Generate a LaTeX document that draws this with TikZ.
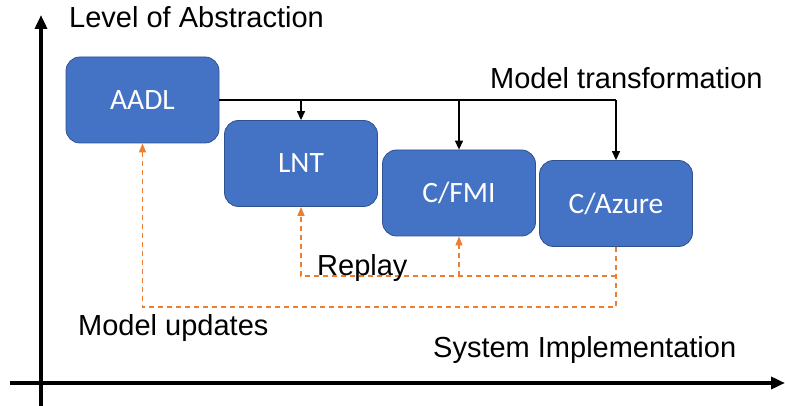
\documentclass[tikz,border=0pt]{standalone}
\usepackage{fontspec}
\setmainfont{Liberation Sans}
\newfontfamily\boxfont{Carlito}
\usetikzlibrary{arrows.meta}
\definecolor{boxblue}{HTML}{4472C4}
\definecolor{boxedge}{HTML}{2F528F}
\definecolor{updorange}{HTML}{ED7D31}
\begin{document}
\begin{tikzpicture}[x=1pt,y=-1pt,
  blockbox/.style={draw=boxedge, line width=0.8pt, fill=boxblue, rounded corners=14pt,
    minimum width=153pt, minimum height=86pt, text=white, font=\boxfont\fontsize{29.5}{33}\selectfont},
  lbl/.style={anchor=base west, inner sep=0pt, font=\fontsize{29}{33}\selectfont},
  axis/.style={line width=3.5pt, -{Triangle[length=14pt,width=12pt]}},
  trans/.style={line width=1.3pt, -{Triangle[length=9pt,width=8pt]}},
  upd/.style={updorange, line width=1.5pt, dash pattern=on 5pt off 4pt, -{Triangle[length=9pt,width=7pt]}}]
\useasboundingbox (0,0) rectangle (785,406);
% axes
\coordinate (vb) at (41,406);
\coordinate (vt) at (41,15);
\coordinate (hl) at (10,383);
\coordinate (hr) at (785,383);
\draw[axis] (vb) -- (vt);
\draw[axis] (hl) -- (hr);
% boxes
\node[blockbox] (aadl) at (142.5,100) {AADL};
\node[blockbox] (lnt) at (301,163.5) {LNT};
\node[blockbox] (fmi) at (459,193) {C/FMI};
\node[blockbox] (azure) at (616,203.5) {C/Azure};
% transformation
\draw[line width=1.3pt] (aadl.east) -- (azure.north |- aadl.east);
\draw[trans] (lnt.north |- aadl.east) -- (lnt.north);
\draw[trans] (fmi.north |- aadl.east) -- (fmi.north);
\draw[trans] (azure.north |- aadl.east) -- (azure.north);
% updates
\coordinate (mu) at (144,307);
\coordinate (rp) at (300,276);
\draw[upd] (azure.south) |- (aadl.south |- mu) -- (aadl.south);
\draw[upd] (azure.south |- rp) -| (lnt.south);
\draw[upd] (fmi.south |- rp) -- (fmi.south);
% labels
\node[lbl] (la) at (69,28) {Level of Abstraction};
\node[lbl] (mt) at (490,89) {Model transformation};
\node[lbl] (rl) at (317,276) {Replay};
\node[lbl] (mup) at (78,335) {Model updates};
\node[lbl] (si) at (433,357) {System Implementation};
\end{tikzpicture}
\end{document}
